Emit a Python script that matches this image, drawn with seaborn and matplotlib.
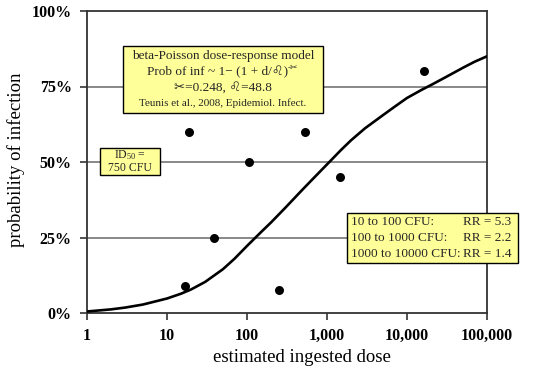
import matplotlib
matplotlib.use("Agg")
import matplotlib.pyplot as plt
from matplotlib.patches import Rectangle
from matplotlib.ticker import FixedLocator, FixedFormatter, NullLocator
import seaborn as sns
import pandas as pd

# Observed outbreak data: estimated dose vs. fraction infected
obs_dose = [17, 19, 39, 105, 250, 535, 1460, 16400]
obs_prob = [0.09, 0.60, 0.25, 0.50, 0.075, 0.60, 0.45, 0.80]

# Dose-response curve values
curve_dose = [1, 2, 3, 5, 10, 15, 20, 30, 50, 70, 100, 150, 200, 300, 500,
              700, 1000, 1500, 2000, 3000, 5000, 7000, 10000, 15000, 20000,
              30000, 50000, 70000, 100000]
curve_prob = [0.005, 0.012, 0.018, 0.028, 0.048, 0.064, 0.078, 0.103, 0.145,
              0.180, 0.222, 0.268, 0.300, 0.348, 0.410, 0.450, 0.492, 0.540,
              0.572, 0.612, 0.655, 0.683, 0.712, 0.738, 0.755, 0.780, 0.812,
              0.832, 0.850]

x_ticks = [1, 10, 100, 1000, 10000, 100000]
x_tick_labels = ["1", "10", "100", "1,000", "10,000", "100,000"]
y_ticks = [0, 0.25, 0.5, 0.75, 1.0]
y_tick_labels = ["0%", "25%", "50%", "75%", "100%"]

model_lines = ["beta-Poisson dose-response model",
               "Prob of inf ~ 1\u2212 (1 + d/\u264c)",
               "\u2702=0.248, \u264c=48.8",
               "Teunis et al., 2008, Epidemiol. Infect."]
model_exp = "-\u2702"
id50_lines = ["ID$_{50}$ =", "750 CFU"]
rr_ranges = ["10 to 100 CFU:", "100 to 1000 CFU:", "1000 to 10000 CFU:"]
rr_values = ["RR = 5.3", "RR = 2.2", "RR = 1.4"]

sns.set_theme(style="white")
plt.rcParams["font.family"] = ["Liberation Serif", "DejaVu Sans"]
plt.rcParams["mathtext.fontset"] = "custom"
plt.rcParams["mathtext.rm"] = "Liberation Serif"
plt.rcParams["mathtext.it"] = "Liberation Serif:italic"
plt.rcParams["mathtext.bf"] = "Liberation Serif:bold"

W, H = 546, 375
fig = plt.figure(figsize=(W / 100, H / 100), dpi=100)
fig.patch.set_facecolor("white")


def fx(px):
    return px / W


def fy(py):
    return 1 - py / H


ax = fig.add_axes([fx(87), fy(313), 400 / W, 302 / H])
ax.set_facecolor("white")

obs = pd.DataFrame({"dose": obs_dose, "prob": obs_prob})
curve = pd.DataFrame({"dose": curve_dose, "prob": curve_prob})

ax.set_xscale("log")
for yv in [0.25, 0.5, 0.75]:
    ax.axhline(yv, color="#7f7f7f", lw=1.3, zorder=1)

sns.lineplot(data=curve, x="dose", y="prob", ax=ax, color="black", lw=1.9,
             zorder=3)
sns.scatterplot(data=obs, x="dose", y="prob", ax=ax, color="black", s=42,
                edgecolor="black", linewidth=0, zorder=4)

ax.set_xlim(1, 100000)
ax.set_ylim(0, 1)
ax.xaxis.set_major_locator(FixedLocator(x_ticks))
ax.xaxis.set_major_formatter(FixedFormatter(x_tick_labels))
ax.xaxis.set_minor_locator(NullLocator())
ax.yaxis.set_major_locator(FixedLocator(y_ticks))
ax.yaxis.set_major_formatter(FixedFormatter(y_tick_labels))
ax.tick_params(axis="both", direction="out", length=5, width=1.2,
               color="#333333", labelsize=11.5, pad=6, left=True,
               bottom=True)
for lab in ax.get_xticklabels() + ax.get_yticklabels():
    lab.set_fontweight("bold")
    lab.set_color("black")
for s in ax.spines.values():
    s.set_color("#333333")
    s.set_linewidth(1.3)
ax.set_xlabel("")
ax.set_ylabel("")

fig.text(fx(302), fy(358), "estimated ingested dose", ha="center",
         va="center", fontsize=13.5, color="black")
fig.text(fx(16), fy(160), "probability of infection", ha="center",
         va="center", rotation=90, fontsize=13.5, color="black")

yellow = "#ffff99"


def box(x0, y0, x1, y1):
    fig.patches.append(Rectangle((fx(x0), fy(y1)), (x1 - x0) / W,
                                 (y1 - y0) / H, transform=fig.transFigure,
                                 facecolor=yellow, edgecolor="black",
                                 lw=1.0, zorder=5))


# Model description box
box(123, 46, 323, 113)
fig.text(fx(223), fy(56), model_lines[0], ha="center", va="center",
         fontsize=9.5, zorder=6)
fig.text(fx(288), fy(72), model_lines[1], ha="right", va="center",
         fontsize=9.5, zorder=6)
fig.text(fx(288), fy(68), model_exp, ha="left", va="center",
         fontsize=6.5, zorder=6)
fig.text(fx(223), fy(88), model_lines[2], ha="center", va="center",
         fontsize=9.5, zorder=6)
fig.text(fx(223), fy(103), model_lines[3], ha="center", va="center",
         fontsize=8, zorder=6)

# ID50 box
box(100, 148, 160, 175)
fig.text(fx(130), fy(155), id50_lines[0], ha="center", va="center",
         fontsize=8.5, zorder=6)
fig.text(fx(130), fy(168), id50_lines[1], ha="center", va="center",
         fontsize=8.5, zorder=6)

# Relative risk box
box(347, 213, 518, 263)
for i, (r, v) in enumerate(zip(rr_ranges, rr_values)):
    yy = 222 + i * 16
    fig.text(fx(351), fy(yy), r, ha="left", va="center", fontsize=9.5,
             zorder=6)
    fig.text(fx(463), fy(yy), v, ha="left", va="center", fontsize=9.5,
             zorder=6)

fig.savefig("out.png", dpi=100, facecolor="white")
